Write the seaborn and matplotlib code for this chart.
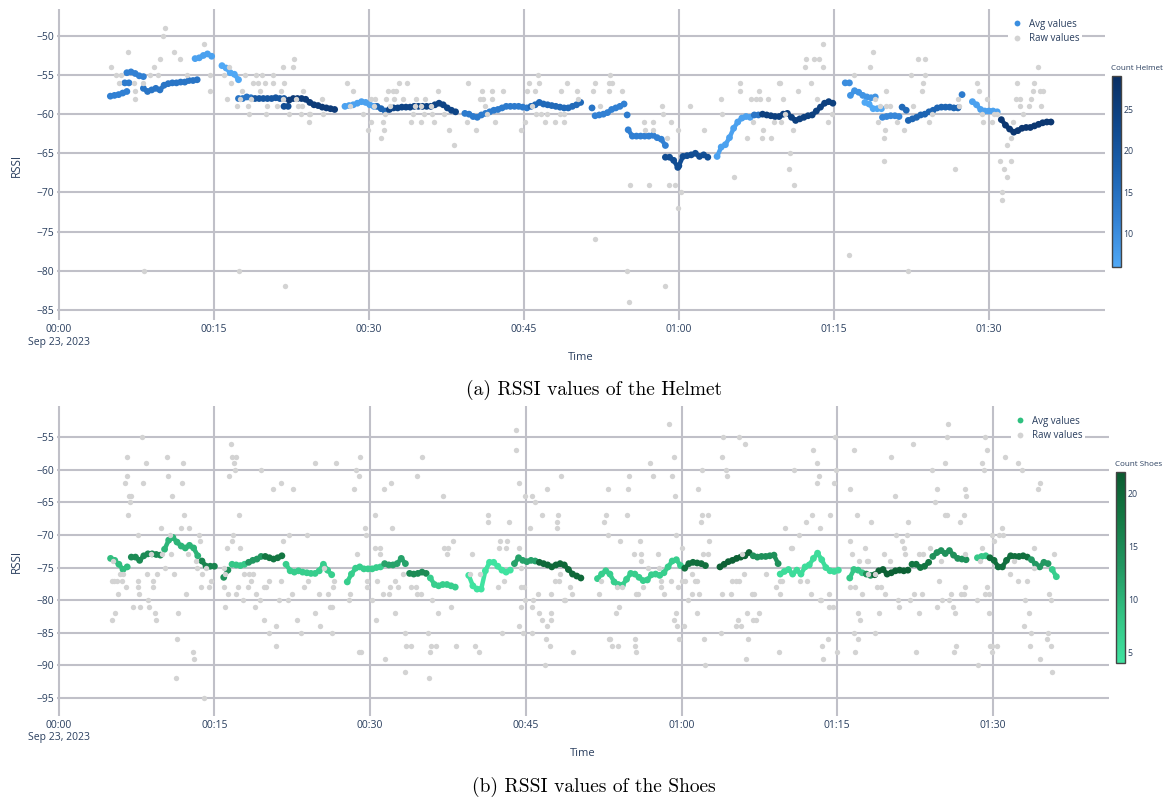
import pandas as pd
import matplotlib
matplotlib.use("Agg")
import matplotlib.pyplot as plt
import seaborn as sns
from matplotlib.colors import LinearSegmentedColormap, Normalize
from matplotlib.cm import ScalarMappable
from matplotlib.lines import Line2D

# rolling averages: (start minute, count, values every STEP minutes)
STEP = 0.4

helmet_avg = [
    (5.0, 12, [-57.7, -57.6, -57.5, -57.3, -57.1]),
    (6.4, 13, [-56.0, -56.0]),
    (6.6, 12, [-54.7, -54.6, -54.8, -55.1, -55.2]),
    (8.2, 14, [-56.7, -57.1, -56.9, -56.7, -56.9, -56.3, -56.1, -56.0, -56.0, -55.9, -55.9, -55.7, -55.7, -55.6]),
    (13.2, 7, [-52.9, -52.8, -52.5, -52.3, -52.6]),
    (15.8, 6, [-53.8, -54.1, -54.7, -54.9, -55.6]),
    (17.4, 14, [-58.0, -58.0, -57.8, -57.9]),
    (19.0, 20, [-58.0, -58.0, -58.0, -58.0, -58.0, -57.9, -58.0, -58.0]),
    (21.8, 22, [-59.0, -59.0]),
    (22.3, 26, [-58.2, -58.0, -58.0, -58.0, -58.1, -58.5, -58.8, -58.9, -59.1, -59.2, -59.3, -59.4]),
    (27.7, 7, [-59.0, -58.9, -58.8, -58.6, -58.4, -58.5, -58.8, -59.0]),
    (30.8, 17, [-59.0, -59.3, -59.6]),
    (32.0, 24, [-59.4, -59.2, -59.2, -59.1, -59.1, -59.1, -59.0, -59.0, -59.0, -59.0, -59.0, -58.8, -58.6, -58.8, -59.2, -59.5, -59.7]),
    (39.3, 13, [-59.9, -60.0, -60.3, -60.4, -60.1, -59.9, -59.7, -59.5, -59.4, -59.2, -59.0, -59.0, -59.0, -59.0, -59.1, -59.2]),
    (45.7, 16, [-59.0, -58.8, -58.5, -58.7, -58.8, -58.9, -59.0, -59.1, -59.2, -59.2, -59.0, -58.8, -58.5]),
    (51.6, 14, [-59.2]),
    (51.9, 12, [-60.2, -60.1, -60.0, -59.8, -59.4, -59.2, -59.0, -58.7]),
    (55.0, 13, [-60.1]),
    (55.1, 12, [-62.0, -62.8, -62.8, -62.8, -62.8, -62.8, -62.7, -63.0, -63.2, -64.0]),
    (58.7, 22, [-65.5, -65.5, -65.9, -66.8]),
    (60.0, 22, [-66.6, -65.4, -65.3, -65.2, -65.0, -65.4, -65.2, -65.5]),
    (63.7, 7, [-65.4, -64.2, -63.9, -63.0, -61.8, -61.0, -60.5, -60.3, -60.4]),
    (67.3, 14, [-60.1, -60.1]),
    (68.1, 25, [-60.0, -60.1, -60.2, -60.3, -60.3, -60.0, -59.9, -60.4, -60.8, -60.6, -60.4, -60.2, -60.1, -59.6, -59.1, -58.6, -58.4, -58.6]),
    (76.1, 10, [-56.0, -56.0]),
    (76.6, 9, [-57.6, -57.0, -57.2, -57.6, -57.8, -57.9, -57.8]),
    (78.0, 6, [-58.5, -58.7, -59.3, -59.3, -59.3]),
    (79.7, 11, [-60.4, -60.3, -60.2, -60.2, -60.3]),
    (81.6, 16, [-59.1, -59.5]),
    (82.2, 17, [-60.8, -60.6, -60.4, -60.1, -60.0, -59.7, -59.5, -59.2, -59.1, -59.1, -59.1, -59.2, -59.2]),
    (87.4, 13, [-57.5]),
    (88.4, 7, [-58.4, -58.8, -59.4, -59.6, -59.6, -59.6, -59.7]),
    (91.2, 27, [-60.7, -61.4, -61.9, -62.3, -62.1, -61.8, -61.7, -61.7, -61.5, -61.3, -61.1, -61.0, -61.0]),
]

helmet_raw = [
    (5.1, -54), (5.55, -55), (6.0, -55), (5.8, -56), (6.7, -52), (7.3, -56), (7.4, -57), (7.35, -58),
    (8.2, -56), (8.3, -80), (8.8, -55), (9.2, -54), (9.6, -55), (9.8, -53), (10.1, -50), (10.3, -49),
    (11.2, -52), (11.7, -53), (12.4, -55), (14.1, -51), (14.6, -55), (14.65, -57), (16.0, -55), (16.3, -58),
    (16.45, -54), (16.7, -56), (17.3, -59), (17.4, -80), (17.5, -58), (17.7, -57), (18.0, -55), (18.3, -59),
    (18.4, -60), (18.6, -58), (18.8, -56), (19.1, -55), (19.3, -56), (19.5, -57), (19.7, -55), (20.0, -56),
    (20.1, -60), (20.2, -59), (20.7, -55), (20.75, -56), (21.1, -59), (21.5, -57), (21.7, -54), (21.8, -56),
    (21.7, -58), (21.9, -82), (22.3, -60), (22.7, -54), (22.8, -53), (23.0, -58), (23.2, -59), (23.4, -60),
    (23.5, -59), (23.6, -57), (24.2, -60), (24.2, -61), (24.3, -60), (25.5, -58), (25.6, -60), (27.9, -56),
    (28.2, -59), (28.5, -57), (29.4, -60), (29.9, -62), (30.2, -58), (30.2, -61), (30.5, -59), (30.6, -58),
    (31.2, -63), (31.35, -61), (31.5, -62), (31.6, -60), (31.7, -58), (31.9, -57), (32.1, -59), (32.3, -57),
    (32.45, -58), (32.6, -57), (32.9, -56), (33.7, -56), (33.3, -58), (34.6, -58), (35.4, -58), (34.1, -61),
    (35.1, -61), (36.3, -61), (34.3, -60), (35.3, -60), (36.1, -60), (37.3, -60), (34.5, -59), (35.1, -59),
    (36.0, -59), (36.7, -57), (37.8, -62), (38.2, -64), (39.6, -56), (39.5, -61), (40.4, -62), (41.0, -57),
    (40.8, -58), (41.1, -58), (41.2, -59), (41.4, -60), (41.9, -57), (41.9, -58), (42.2, -61), (43.0, -57),
    (44.7, -62), (45.1, -61), (45.3, -57), (45.5, -56), (46.1, -57), (46.4, -55), (46.5, -56), (45.8, -59),
    (46.2, -60), (46.7, -60), (47.1, -61), (47.2, -60), (48.0, -61), (48.6, -57), (48.5, -60), (48.9, -60),
    (48.9, -61), (49.2, -56), (50.1, -57), (50.2, -58), (51.9, -56), (51.7, -57), (52.4, -59), (53.2, -56),
    (53.35, -55), (53.5, -56), (53.2, -57), (54.5, -57), (51.9, -76), (55.0, -80), (55.2, -84), (55.3, -69),
    (56.6, -61), (56.7, -62), (57.1, -69), (57.5, -61), (57.5, -62), (58.4, -59), (58.5, -60), (58.7, -82),
    (58.9, -63), (59.0, -69), (59.6, -69), (59.2, -61), (59.9, -62), (60.2, -70), (59.9, -72), (61.1, -59),
    (62.4, -62), (64.1, -58), (64.2, -60), (65.3, -68), (65.9, -56), (65.9, -57), (66.6, -63), (67.0, -58),
    (67.2, -61), (67.5, -58), (67.9, -58), (67.8, -57), (68.0, -63), (68.1, -62), (68.6, -58), (68.9, -63),
    (69.2, -61), (69.7, -56), (69.8, -56), (70.1, -58), (70.25, -60), (69.9, -61), (71.0, -62), (70.8, -65),
    (70.7, -67), (71.15, -69), (71.5, -57), (72.2, -54), (72.35, -53), (72.8, -56), (73.1, -53), (73.4, -58),
    (73.6, -53), (73.9, -51), (73.95, -54), (74.45, -61), (74.8, -60), (76.45, -78), (76.9, -55), (78.5, -54),
    (78.75, -52), (79.0, -58), (79.5, -59), (80.0, -57), (80.0, -59), (80.4, -59), (79.3, -61), (79.9, -62),
    (79.8, -63), (79.8, -66), (81.1, -61), (81.8, -62), (82.2, -80), (82.5, -55), (82.7, -59), (83.1, -53),
    (83.8, -53), (83.6, -56), (83.5, -57), (83.8, -55), (84.2, -61), (84.5, -60), (86.7, -67), (87.0, -58),
    (87.1, -59), (88.8, -56), (89.0, -57), (89.4, -61), (89.8, -58), (89.3, -60), (90.3, -61), (90.5, -60),
    (90.8, -60), (91.1, -66), (91.3, -70), (91.3, -71), (91.5, -67), (91.7, -68), (91.7, -64), (92.1, -66),
    (92.1, -63), (92.3, -61), (92.7, -56), (92.6, -58), (93.0, -58), (93.0, -59), (93.3, -60), (93.9, -59),
    (94.1, -58), (94.3, -57), (94.4, -56), (94.7, -54), (94.9, -57), (95.2, -57), (95.0, -59),
]

shoes_avg = [
    (5.0, 9, [-73.6, -73.9, -74.5, -75.3, -74.9]),
    (7.0, 15, [-73.4, -73.4, -73.9, -73.2, -72.9, -72.9, -73.0, -73.1]),
    (10.2, 10, [-72.2, -70.8, -70.4, -71.1, -71.7, -72.0, -71.6, -72.0, -73.2]),
    (13.8, 16, [-74.0, -74.8, -74.8, -74.8]),
    (15.9, 14, [-76.5, -75.4]),
    (16.7, 8, [-74.5, -74.6, -74.7, -74.5]),
    (18.3, 13, [-74.2, -73.9, -73.7, -73.3]),
    (19.9, 18, [-73.3, -73.5, -73.7, -73.5, -73.2]),
    (21.9, 7, [-74.5, -75.5, -75.7, -75.5, -75.7, -75.8, -75.9, -75.9, -75.5, -74.5, -75.4, -76.1]),
    (27.8, 7, [-77.2, -76.0, -75.1, -74.9, -75.2, -75.2, -75.2, -75.0, -74.9]),
    (31.4, 12, [-74.4, -74.6, -74.6, -74.4, -73.6, -74.4]),
    (33.8, 15, [-75.9, -76.0, -75.9, -75.7, -75.9]),
    (35.8, 7, [-76.6, -77.6, -77.8, -77.6, -77.6, -77.8, -78.0]),
    (39.5, 4, [-76.2, -77.8, -78.3, -78.3, -75.5, -74.2, -74.2, -74.8, -75.4, -75.7, -75.4]),
    (43.9, 12, [-74.4, -73.5, -73.9, -74.1, -73.9, -74.0]),
    (46.3, 20, [-74.2, -74.4, -74.6, -74.9, -74.6, -74.4, -74.6, -75.3, -76.0, -76.3, -76.6]),
    (51.9, 7, [-76.7, -76.0, -75.5, -76.0, -77.2, -77.6, -77.7, -76.8, -75.9, -76.0, -76.5, -77.0, -76.9,
               -76.1, -76.0, -76.2, -75.8, -74.9, -74.0, -73.8, -74.7]),
    (60.3, 19, [-75.1, -74.4, -74.2, -74.3, -74.4, -74.7]),
    (63.7, 21, [-74.9, -74.5, -74.1, -73.9, -73.6, -73.4, -73.2, -72.7]),
    (66.9, 14, [-73.2, -73.4, -73.3, -73.3, -73.2, -73.1, -74.4]),
    (69.5, 5, [-76.0, -75.6, -75.3, -76.0, -75.4, -76.0, -74.9, -74.6, -73.6, -72.8, -73.8, -75.0, -75.5, -75.6, -75.4]),
    (76.2, 8, [-76.6, -75.3, -75.4, -75.8]),
    (77.8, 14, [-76.0, -76.2]),
    (78.6, 21, [-76.1, -75.5, -75.3, -76.0, -75.8, -75.5, -75.4, -75.5, -75.4]),
    (82.2, 18, [-74.5, -74.5, -75.0, -74.8, -74.2]),
    (84.2, 14, [-73.3, -72.7, -72.4, -72.85, -72.4, -73.1, -73.6, -73.7, -73.8]),
    (88.5, 8, [-73.5, -73.3, -73.2]),
    (89.7, 19, [-73.5, -73.9, -74.9, -74.9, -73.9, -73.2, -73.3, -73.3, -73.2, -73.4]),
    (93.7, 13, [-73.8, -74.5, -74.9, -74.2, -74.4]),
    (95.7, 7, [-75.3, -76.4]),
]

shoes_raw = [
    (8.0, -55), (6.6, -58), (8.4, -59), (10.4, -58), (12.0, -59), (6.6, -61), (6.4, -62), (8.1, -62),
    (10.5, -61), (11.9, -62), (6.8, -64), (7.0, -64), (6.9, -65), (10.9, -64), (6.7, -67), (12.1, -67),
    (9.9, -69), (11.8, -69), (12.6, -69), (7.6, -70), (10.7, -70), (13.55, -70), (13.65, -71), (5.2, -74),
    (8.9, -73), (10.0, -73), (10.8, -73), (12.5, -73), (13.2, -74), (13.3, -75), (13.8, -76), (14.2, -75),
    (10.2, -75), (11.1, -76), (5.1, -77), (5.3, -77), (5.6, -77), (6.1, -77), (5.9, -76), (6.15, -76),
    (5.7, -79), (6.5, -78), (7.6, -77), (7.6, -78), (7.7, -79), (7.2, -81), (7.8, -81), (8.6, -80),
    (8.7, -81), (8.5, -76), (9.1, -78), (9.3, -82), (9.4, -83), (9.5, -76), (9.05, -77), (5.45, -82),
    (5.1, -83), (11.5, -82), (11.4, -86), (12.3, -79), (12.9, -88), (13.0, -89), (11.3, -92), (14.0, -95),
    (13.7, -78), (14.45, -78), (14.7, -77),
    (16.6, -56), (16.65, -58), (17.1, -58), (16.9, -59), (17.0, -60), (16.4, -61), (19.5, -60), (20.6, -63),
    (21.4, -62), (22.6, -63), (24.7, -59), (26.7, -59), (28.4, -63), (28.6, -60), (28.9, -61), (29.0, -58),
    (17.4, -67), (16.8, -70), (23.9, -70), (22.2, -70), (21.6, -71), (16.7, -71), (16.2, -72), (17.5, -72),
    (15.9, -75), (16.0, -76), (16.3, -79), (16.0, -81), (15.9, -78), (17.1, -79), (17.3, -78), (17.8, -80),
    (17.9, -76), (18.3, -76), (18.7, -76), (18.2, -78), (18.5, -77), (19.0, -79), (18.9, -81), (19.4, -80),
    (19.8, -78), (20.0, -78), (19.8, -83), (20.3, -85), (20.9, -84), (20.9, -87), (20.3, -77), (21.2, -80),
    (21.4, -77), (22.1, -80), (22.5, -79), (23.0, -83), (23.3, -85), (23.6, -78), (24.0, -77), (24.65, -82),
    (25.1, -79), (25.2, -84), (25.55, -75), (25.9, -79), (26.1, -81), (26.3, -81), (26.35, -85), (26.4, -78),
    (26.5, -77), (28.0, -80), (28.1, -79), (28.9, -88), (28.7, -73),
    (29.5, -69), (29.6, -70), (30.5, -67), (31.3, -63), (32.0, -62), (32.1, -69), (35.0, -58), (34.5, -61),
    (37.0, -64), (37.97, -71), (37.1, -72), (37.5, -72), (37.4, -73), (30.5, -72), (30.96, -72), (30.96, -73),
    (30.2, -80), (30.6, -83), (29.1, -88), (31.4, -89), (32.4, -82), (29.7, -77), (29.7, -78), (30.7, -77),
    (31.2, -79), (31.8, -79), (31.9, -78), (32.4, -77), (32.7, -78), (33.2, -76), (33.9, -78), (34.4, -78),
    (34.5, -79), (34.9, -79), (35.95, -80), (36.5, -82), (37.8, -81), (33.4, -85), (33.5, -87), (33.9, -87),
    (33.4, -91), (35.7, -92), (35.6, -85), (35.9, -87), (36.3, -87), (35.8, -88), (38.3, -87), (39.8, -73),
    (39.65, -76), (40.1, -87), (40.45, -88), (40.6, -76), (41.4, -67), (41.4, -68), (42.3, -78), (42.7, -85),
    (42.9, -77), (42.5, -71), (43.2, -71), (42.4, -72), (43.1, -72), (43.4, -68), (44.05, -54), (44.05, -57),
    (44.3, -62), (44.3, -72), (44.5, -75), (44.5, -78), (44.8, -78), (44.5, -81), (44.95, -64), (44.9, -80),
    (44.3, -84), (44.7, -85), (45.4, -69), (45.6, -85), (45.6, -81), (45.6, -64), (45.9, -65), (45.7, -80),
    (46.2, -79), (46.3, -82), (46.6, -83), (46.6, -67), (46.9, -86), (47.0, -84), (47.3, -87), (47.4, -83),
    (47.4, -82), (47.0, -63), (47.4, -79), (47.8, -77), (48.0, -68), (48.0, -69), (48.2, -77), (48.4, -61),
    (48.1, -67), (48.65, -80), (48.8, -80), (48.3, -76), (49.3, -78), (49.45, -79), (49.5, -88), (46.8, -90),
    (52.0, -79), (52.2, -77), (52.5, -68), (52.7, -67), (52.9, -70), (52.9, -63), (53.0, -86),
    (54.9, -61), (54.8, -63), (54.7, -67), (54.1, -71), (54.0, -81), (53.65, -82), (53.1, -86), (53.3, -87),
    (53.9, -87), (53.8, -78), (54.3, -78), (55.5, -87), (55.6, -88), (55.5, -86), (55.4, -73), (56.05, -73),
    (56.0, -71), (56.1, -74), (55.65, -79), (55.8, -79), (56.3, -78), (56.8, -75), (57.0, -59), (57.2, -61),
    (57.7, -73), (57.8, -75), (58.0, -78), (58.3, -79), (58.0, -77), (58.8, -53), (59.3, -58), (59.1, -61),
    (59.4, -64), (59.0, -77), (59.5, -70), (59.7, -78), (59.5, -82), (59.3, -83), (59.6, -84), (60.2, -84),
    (59.8, -86), (60.06, -72), (60.06, -77), (60.3, -77), (60.6, -80), (60.96, -76), (61.0, -79), (61.3, -77),
    (61.5, -77), (61.5, -82), (61.6, -63), (61.7, -79), (62.0, -60), (62.0, -67), (62.5, -67), (61.9, -68),
    (62.1, -73), (62.5, -73), (62.6, -71), (62.2, -86), (62.3, -90), (63.9, -79), (63.8, -85), (63.9, -58),
    (64.0, -55), (64.3, -60), (64.4, -61), (64.8, -79), (64.9, -77), (65.2, -77), (65.5, -77), (65.2, -84),
    (65.7, -84), (65.45, -83), (65.5, -55), (66.1, -56), (65.8, -73), (66.0, -76), (66.3, -82), (66.4, -86),
    (66.2, -89), (66.8, -79), (67.0, -79), (66.9, -83), (67.2, -83), (67.5, -82), (68.1, -76), (69.1, -78),
    (69.4, -88), (69.5, -77), (69.7, -77), (69.5, -79), (70.0, -69), (70.5, -72), (70.6, -72), (70.8, -60),
    (71.3, -70), (71.4, -77), (72.0, -68), (72.1, -77), (72.5, -79), (72.6, -67), (72.7, -57), (73.0, -59),
    (73.2, -61), (73.0, -62), (73.3, -69), (73.3, -80), (73.4, -80), (73.5, -87), (73.6, -89), (74.1, -86),
    (74.2, -79), (74.3, -67), (74.2, -81), (74.6, -81), (74.65, -62), (74.8, -55), (74.9, -60), (75.0, -88),
    (76.25, -63), (76.6, -57), (76.7, -88), (77.0, -86), (77.0, -82), (76.25, -71), (76.4, -73), (76.2, -78),
    (76.7, -78), (76.6, -85), (76.9, -67), (77.1, -74),
    (77.7, -72), (78.2, -68), (77.9, -74), (78.0, -74), (78.0, -76), (77.4, -79), (77.2, -83), (78.6, -76),
    (78.8, -78), (79.0, -82), (78.6, -85), (79.2, -78), (79.6, -79), (79.5, -73), (80.1, -74), (80.2, -58),
    (80.6, -64), (80.7, -70), (80.8, -80), (80.9, -81), (81.2, -71), (81.4, -72), (81.5, -73), (81.7, -70),
    (81.8, -68), (82.0, -80), (82.3, -56), (82.35, -79), (82.6, -88), (82.85, -82), (82.85, -73), (83.2, -79),
    (83.3, -73), (83.9, -72), (84.1, -60), (84.4, -65), (84.6, -63), (84.8, -77), (84.6, -81), (85.1, -80),
    (85.0, -74), (85.35, -67), (85.6, -67), (85.4, -59), (85.6, -55), (85.7, -53), (85.75, -80), (86.1, -81),
    (86.0, -79), (86.35, -82), (86.4, -87), (86.2, -88), (86.8, -68), (87.2, -67), (87.3, -63), (87.4, -64),
    (86.9, -79), (87.2, -79), (87.3, -78), (87.3, -73), (88.5, -80), (88.6, -90), (88.7, -74), (88.9, -59),
    (89.1, -60), (89.2, -55), (89.4, -57), (88.9, -72), (89.2, -79), (89.6, -79), (89.4, -78), (89.6, -82),
    (89.7, -87), (89.9, -87), (90.4, -87), (89.9, -88), (89.9, -70), (90.1, -71), (90.6, -70), (91.0, -70),
    (90.9, -69), (91.2, -58), (91.6, -76), (92.0, -74), (92.4, -77), (92.4, -59), (92.8, -60), (93.1, -80),
    (92.95, -84), (93.3, -77), (93.5, -82), (93.6, -87), (93.7, -85), (93.95, -72), (94.3, -63), (94.5, -62),
    (94.5, -89), (95.4, -79), (95.6, -80), (95.3, -85), (95.2, -86), (95.6, -87), (95.7, -91), (95.9, -73),
    (93.9, -75),
]

x_ticks = [0, 15, 30, 45, 60, 75, 90]
x_ticklabels = ["00:00\nSep 23, 2023", "00:15", "00:30", "00:45", "01:00", "01:15", "01:30"]
helmet_yticks = [-85, -80, -75, -70, -65, -60, -55, -50]
shoes_yticks = [-95, -90, -85, -80, -75, -70, -65, -60, -55]
helmet_cticks = [10, 15, 20, 25]
shoes_cticks = [5, 10, 15, 20]

TEXT = "#2a3f5f"
GRID = "#c0c0c8"
RAW = "#d3d3d3"

helmet_cmap = LinearSegmentedColormap.from_list(
    "helmet", ["#50a8f5", "#3281d4", "#1b62b0", "#0f478b", "#0a2f63"])
shoes_cmap = LinearSegmentedColormap.from_list(
    "shoes", ["#40e3a0", "#33c383", "#229862", "#147a45", "#0b5a30"])


def avg_frame(segments):
    rows = []
    for seg, (start, count, values) in enumerate(segments):
        for i, v in enumerate(values):
            rows.append((seg, start + STEP * i, v, count))
    return pd.DataFrame(rows, columns=["seg", "minute", "rssi", "count"])


sns.set_theme(style="white")
plt.rcParams["font.family"] = ["Open Sans", "DejaVu Sans"]

W, H = 1169, 799
fig = plt.figure(figsize=(W / 100, H / 100), dpi=100)


def px_rect(x0, y0, x1, y1):
    return [x0 / W, 1 - y1 / H, (x1 - x0) / W, (y1 - y0) / H]


def draw_panel(rect, cbar_rect, avg, raw, cmap, crange, ylim, yticks, cticks,
               leg_color, cbar_title, cbar_title_xy, leg_anchor, label_y, time_y, caption, caption_y):
    ax = fig.add_axes(px_rect(*rect))
    df_avg = avg_frame(avg)
    df_raw = pd.DataFrame(raw, columns=["minute", "rssi"])
    norm = Normalize(*crange)
    # dense rolling-average samples look like a thick band
    sns.lineplot(data=df_avg, x="minute", y="rssi", hue="count", units="seg",
                 estimator=None, sort=False, palette=cmap, hue_norm=norm,
                 lw=3.2, legend=False, ax=ax, zorder=2, solid_capstyle="round")
    sns.scatterplot(data=df_avg, x="minute", y="rssi", hue="count", palette=cmap,
                    hue_norm=norm, s=24, linewidth=0, legend=False, ax=ax, zorder=3)
    sns.scatterplot(data=df_raw, x="minute", y="rssi", color=RAW, s=15,
                    linewidth=0, legend=False, ax=ax, zorder=4)

    ax.set_xlim(-0.16, 101.2)
    ax.set_ylim(*ylim)
    ax.set_xticks(x_ticks)
    ax.set_xticklabels(x_ticklabels)
    ax.set_yticks(yticks)
    ax.grid(True, color=GRID, lw=1.5)
    ax.set_axisbelow(True)
    for sp in ax.spines.values():
        sp.set_visible(False)
    ax.tick_params(length=0, labelsize=7.5, colors=TEXT)
    ax.tick_params(axis="y", pad=2)
    ax.tick_params(axis="x", pad=3)
    ax.set_xlabel("")
    ax.set_ylabel("")

    handles = [
        Line2D([], [], ls="", marker="o", ms=4.2, mec="none", mfc=leg_color),
        Line2D([], [], ls="", marker="o", ms=4.2, mec="none", mfc=RAW),
    ]
    leg = ax.legend(handles, ["Avg values", "Raw values"], loc="upper right",
                    bbox_to_anchor=(leg_anchor[0] / W, 1 - leg_anchor[1] / H),
                    bbox_transform=fig.transFigure, frameon=True, fontsize=7,
                    labelcolor=TEXT, handletextpad=0.6, handlelength=1.2,
                    labelspacing=0.35, borderpad=0.3, fancybox=False)
    leg.get_frame().set_facecolor("white")
    leg.get_frame().set_edgecolor("none")
    leg.get_frame().set_alpha(1)
    leg.set_zorder(10)

    cax = fig.add_axes(px_rect(*cbar_rect))
    cb = fig.colorbar(ScalarMappable(norm=norm, cmap=cmap), cax=cax)
    cb.set_ticks(cticks)
    cb.outline.set_edgecolor("#444444")
    cb.outline.set_linewidth(1)
    cax.tick_params(length=0, labelsize=6.3, colors=TEXT, pad=2)
    fig.text(cbar_title_xy[0] / W, 1 - cbar_title_xy[1] / H, cbar_title,
             fontsize=5.8, color=TEXT, ha="left", va="center")

    fig.text(16 / W, 1 - label_y / H, "RSSI", rotation=90, fontsize=8.3,
             color=TEXT, ha="center", va="center")
    mid = (rect[0] + rect[2]) / 2
    fig.text(mid / W, 1 - time_y / H, "Time", fontsize=8, color=TEXT,
             ha="center", va="center")
    fig.text(594 / W, 1 - caption_y / H, caption, fontsize=14, family="cmr10",
             color="black", ha="center", va="center")


draw_panel((57, 9.3, 1104.7, 320), (1112, 76, 1120.7, 266.7), helmet_avg, helmet_raw,
           helmet_cmap, (6, 29), (-86.3, -46.6), helmet_yticks, helmet_cticks,
           "#3a8ee0", "Count Helmet", (1111, 68), (1087, 11), 165, 357,
           "(a) RSSI values of the Helmet", 390)
draw_panel((57, 406, 1109.3, 715.7), (1116, 472.3, 1125, 663.3), shoes_avg, shoes_raw,
           shoes_cmap, (4, 22), (-97.7, -50.25), shoes_yticks, shoes_cticks,
           "#2fc07f", "Count Shoes", (1115, 465), (1090, 408), 561, 753,
           "(b) RSSI values of the Shoes", 787)

fig.savefig("out.png", dpi=100)
